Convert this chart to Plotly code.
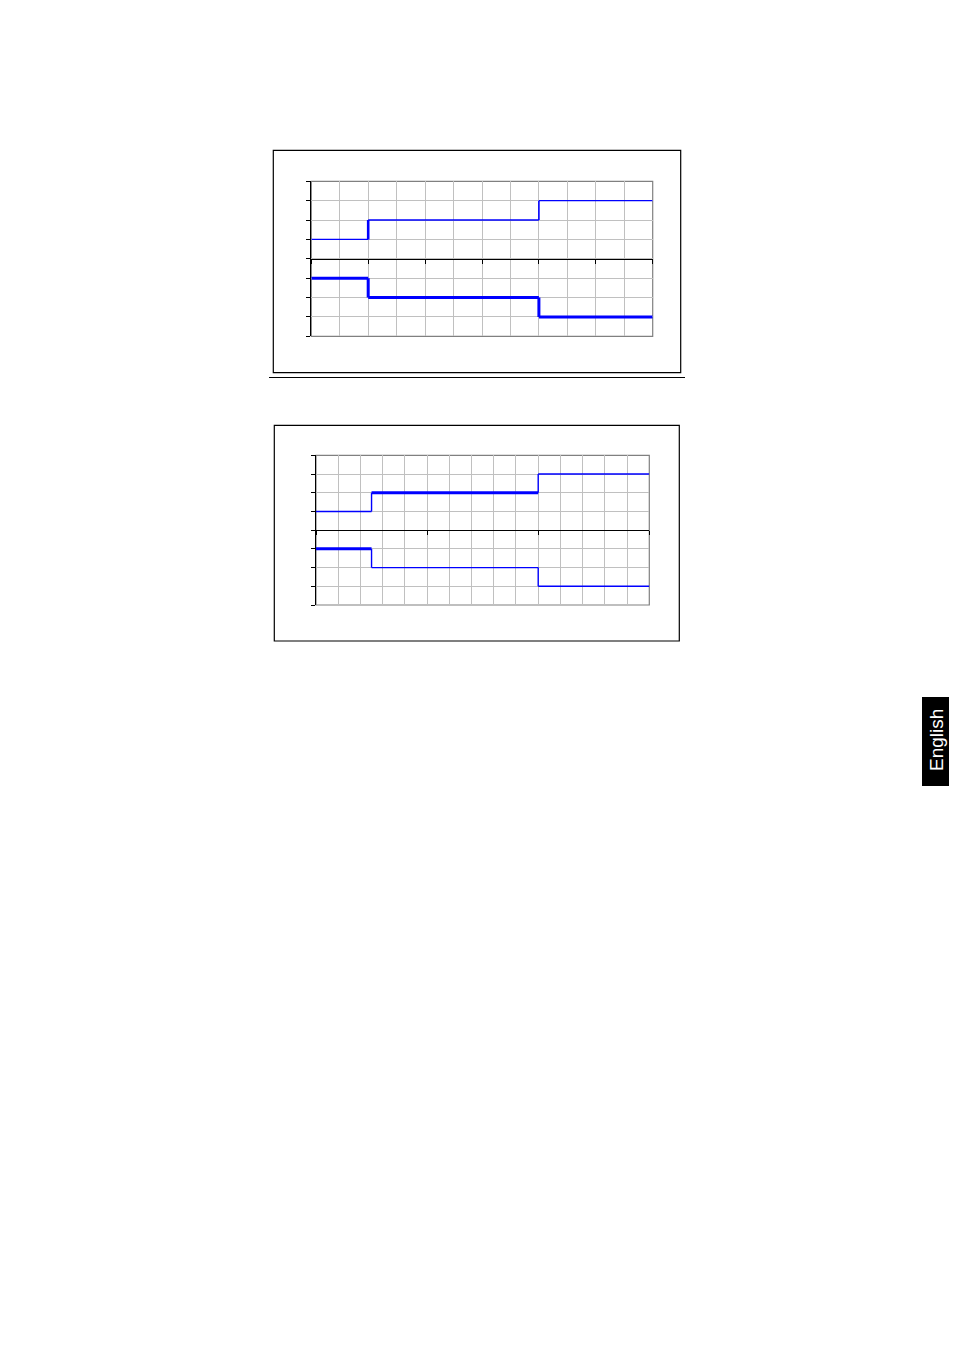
import plotly.graph_objects as go

W, H = 954, 1350

# step charts: x edges and levels of the upper / lower curves
x_edges_1 = [0, 2, 8, 12]
upper_1 = [1, 2, 3]
lower_1 = [-1, -2, -3]

x_edges_2 = [0, 2.5, 10, 15]
upper_2 = [1, 2, 3]
lower_2 = [-1, -2, -3]

tab_label = "English"


def px_x(p):
    return p / W


def px_y(p):
    return 1 - p / H


def add_step(fig, edges, levels, xa, ya, flat_w, rise_w):
    # horizontal pieces
    for i, lv in enumerate(levels):
        fig.add_trace(go.Scatter(x=[edges[i], edges[i + 1]], y=[lv, lv], mode="lines",
                                 line=dict(color="#0000ff", width=flat_w[i]),
                                 xaxis=xa, yaxis=ya, showlegend=False, hoverinfo="skip"))
    # vertical risers
    for i in range(1, len(levels)):
        fig.add_trace(go.Scatter(x=[edges[i], edges[i]], y=[levels[i - 1], levels[i]], mode="lines",
                                 line=dict(color="#0000ff", width=rise_w[i - 1]),
                                 xaxis=xa, yaxis=ya, showlegend=False, hoverinfo="skip"))


fig = go.Figure()

add_step(fig, x_edges_1, upper_1, "x", "y", [1.4, 1.4, 1.4], [2.6, 1.6])
add_step(fig, x_edges_1, lower_1, "x", "y", [3, 3, 3], [3, 3])
add_step(fig, x_edges_2, upper_2, "x2", "y2", [1.4, 3, 1.4], [1.4, 1.4])
add_step(fig, x_edges_2, lower_2, "x2", "y2", [3, 1.4, 1.4], [1.4, 1.4])

dom1_x = [px_x(311.3), px_x(652.7)]
dom1_y = [px_y(336.3), px_y(181.3)]
dom2_x = [px_x(316), px_x(649.3)]
dom2_y = [px_y(605), px_y(455.3)]

grid = "#c0c0c0"


def xaxis(dom, dom_y, rng, major):
    return dict(domain=dom, range=rng, anchor="free", position=(dom_y[0] + dom_y[1]) / 2,
                tick0=0, dtick=major, showticklabels=False, ticks="outside", ticklen=4,
                tickcolor="black", showline=True, linecolor="black", linewidth=1.4,
                showgrid=True, gridcolor=grid, gridwidth=1, zeroline=False,
                minor=dict(dtick=1, tick0=0, showgrid=True, gridcolor=grid, gridwidth=1, ticks=""))


def yaxis(dom, anchor):
    return dict(domain=dom, range=[-4, 4], anchor=anchor, tick0=0, dtick=1,
                showticklabels=False, ticks="outside", ticklen=4, tickcolor="black",
                showline=True, linecolor="black", linewidth=1.4,
                showgrid=True, gridcolor=grid, gridwidth=1, zeroline=False)


shapes = []
for (x0, x1), (y0, y1) in [(dom1_x, dom1_y), (dom2_x, dom2_y)]:
    shapes.append(dict(type="rect", xref="paper", yref="paper", x0=x0, x1=x1, y0=y0, y1=y1,
                       line=dict(color="#808080", width=1.2), layer="below"))

# frames round the two charts and the rule between them
for x0, x1, y0, y1 in [(273.3, 680.7, 150.3, 372.7), (274.3, 679.3, 425.3, 641)]:
    shapes.append(dict(type="rect", xref="paper", yref="paper",
                       x0=px_x(x0), x1=px_x(x1), y0=px_y(y1), y1=px_y(y0),
                       line=dict(color="black", width=1.2)))
shapes.append(dict(type="line", xref="paper", yref="paper",
                   x0=px_x(269), x1=px_x(685), y0=px_y(377.5), y1=px_y(377.5),
                   line=dict(color="black", width=1)))
# side tab
shapes.append(dict(type="rect", xref="paper", yref="paper",
                   x0=px_x(922), x1=px_x(949), y0=px_y(786), y1=px_y(697),
                   fillcolor="black", line=dict(color="black", width=0)))

fig.update_layout(
    width=W, height=H, margin=dict(l=0, r=0, t=0, b=0),
    paper_bgcolor="white", plot_bgcolor="rgba(0,0,0,0)",
    xaxis=xaxis(dom1_x, dom1_y, [0, 12], 2),
    yaxis=yaxis(dom1_y, "x"),
    xaxis2=xaxis(dom2_x, dom2_y, [0, 15], 5),
    yaxis2=yaxis(dom2_y, "x2"),
    shapes=shapes,
    annotations=[dict(text=tab_label, xref="paper", yref="paper",
                      x=px_x(936.5), y=px_y(740.5), xanchor="center", yanchor="middle",
                      showarrow=False, textangle=-90,
                      font=dict(family="Liberation Sans, Arial", size=19, color="white"))],
)

# drop the page's default body margin so the figure sits at the window's corner
fig.write_html("out.html", config={"displayModeBar": False},
               post_script="document.body.style.margin='0';")
